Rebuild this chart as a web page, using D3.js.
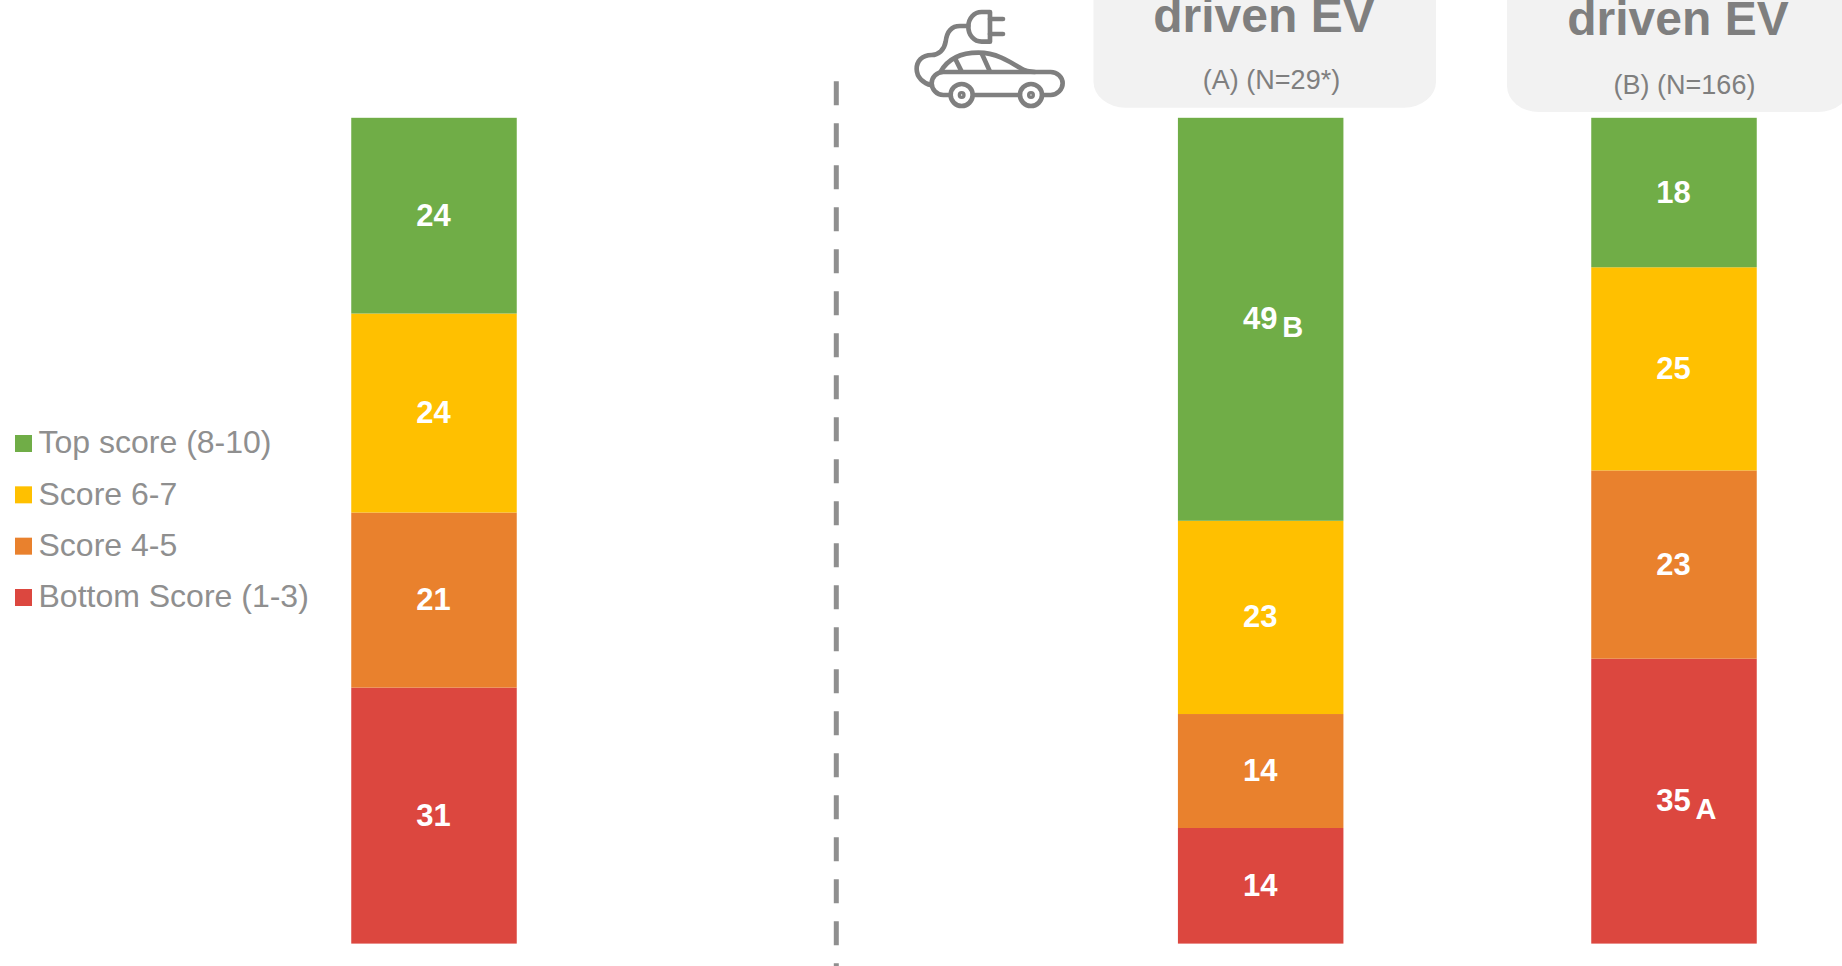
<!DOCTYPE html>
<html>
<head>
<meta charset="utf-8">
<script src="https://cdn.jsdelivr.net/npm/d3@7"></script>
<style>
html,body{margin:0;padding:0;background:#fff;overflow:hidden}
svg{display:block}
text{font-family:"Liberation Sans",Arial,sans-serif}
</style>
</head>
<body>
<svg id="chart" width="1842" height="966"></svg>
<script>
// Categories: the blank slot is the gap that holds the dashed divider
const categories = ["Total", "", "A", "B"];
const barCategories = ["Total", "A", "B"];
const seriesNames = ["Bottom Score (1-3)", "Score 4-5", "Score 6-7", "Top score (8-10)"];
const legendOrder = ["Top score (8-10)", "Score 6-7", "Score 4-5", "Bottom Score (1-3)"];
const bottomScore = [31.0, 14.0, 34.5];
const score45 = [21.2, 13.8, 22.8];
const score67 = [24.1, 23.4, 24.6];
const topScore = [23.7, 48.8, 18.1];
const sigTop = ["", "B", ""];
const sigBottom = ["", "", "A"];
const headers = ["driven EV", "driven EV"];
const subHeaders = ["(A) (N=29*)", "(B) (N=166)"];
const colors = ["#DC473F", "#E9812D", "#FFC000", "#70AD47"];

const svg = d3.select("#chart");
const x = d3.scalePoint().domain(categories).range([434, 1674]);
const y = d3.scaleLinear().domain([0, 100]).range([943.6, 117.8]);
const color = d3.scaleOrdinal().domain(seriesNames).range(colors);
const barW = 165.5;

const rows = barCategories.map((c, i) => ({
  category: c,
  [seriesNames[0]]: bottomScore[i],
  [seriesNames[1]]: score45[i],
  [seriesNames[2]]: score67[i],
  [seriesNames[3]]: topScore[i],
  sigTop: sigTop[i],
  sigBottom: sigBottom[i]
}));
const stacked = d3.stack().keys(seriesNames)(rows);

// Header boxes (run off the top of the frame)
const boxes = [
  {x0: 1093.5, x1: 1436, bottom: 107.7, cx: 1264, base: 31.5, subCx: 1271.5, subBase: 89},
  {x0: 1507, x1: 1850, bottom: 112, cx: 1678, base: 35, subCx: 1684.5, subBase: 93.5}
];
boxes.forEach((b, i) => {
  svg.append("rect").attr("x", b.x0).attr("y", -40).attr("width", b.x1 - b.x0)
    .attr("height", b.bottom + 40).attr("rx", 32).attr("ry", 26).attr("fill", "#F2F2F2");
  svg.append("text").attr("x", b.cx).attr("y", b.base).attr("text-anchor", "middle")
    .attr("font-size", 48).attr("font-weight", "bold").attr("fill", "#7F7F7F").text(headers[i]);
  svg.append("text").attr("x", b.subCx).attr("y", b.subBase).attr("text-anchor", "middle")
    .attr("font-size", 27).attr("fill", "#7F7F7F").text(subHeaders[i]);
});

// Dashed divider
svg.append("line").attr("x1", 836.3).attr("x2", 836.3).attr("y1", 81.3).attr("y2", 966)
  .attr("stroke", "#8F8F8F").attr("stroke-width", 5).attr("stroke-dasharray", "24 18");

// Stacked bars
const layers = svg.selectAll("g.layer").data(stacked).join("g").attr("class", "layer")
  .attr("fill", d => color(d.key));
layers.selectAll("rect").data(d => d).join("rect")
  .attr("x", d => x(d.data.category) - barW / 2)
  .attr("width", barW)
  .attr("y", d => y(d[1]))
  .attr("height", d => y(d[0]) - y(d[1]));

// Value labels
const fmt = d3.format(".0f");
const labels = svg.selectAll("g.labels").data(stacked).join("g").attr("class", "labels");
labels.selectAll("text").data(d => d).join("text")
  .attr("x", d => x(d.data.category) - 0.5)
  .attr("y", d => (y(d[0]) + y(d[1])) / 2 + 10)
  .attr("text-anchor", "middle").attr("font-size", 31).attr("font-weight", "bold")
  .attr("fill", "#fff").text(d => fmt(d[1] - d[0]));

// Significance letters
function sig(layerIdx, field) {
  svg.append("g").selectAll("text").data(stacked[layerIdx].filter(d => d.data[field])).join("text")
    .attr("x", d => x(d.data.category) + 21.5)
    .attr("y", d => (y(d[0]) + y(d[1])) / 2 + 17.5)
    .attr("font-size", 29).attr("font-weight", "bold").attr("fill", "#fff")
    .text(d => d.data[field]);
}
sig(3, "sigTop");
sig(0, "sigBottom");

// Legend
const legendY = d3.scalePoint().domain(legendOrder).range([443.5, 597.5]);
const legend = svg.append("g").selectAll("g").data(legendOrder).join("g");
legend.append("rect").attr("x", 15).attr("width", 17).attr("height", 17)
  .attr("y", d => legendY(d) - 8.5).attr("fill", d => color(d));
legend.append("text").attr("x", 38.5).attr("y", d => legendY(d) + 9.7)
  .attr("font-size", 32).attr("fill", "#8F8F8F").text(d => d);

// Electric car icon (decorative)
const icon = svg.append("g").attr("transform", "translate(900,0) scale(0.3333)")
  .attr("fill", "none").attr("stroke", "#7F7F7F").attr("stroke-width", 14)
  .attr("stroke-linecap", "round").attr("stroke-linejoin", "round");
icon.append("path").attr("d", "M270,36 V125 H245 C222,125 205,105 205,80 C205,55 222,36 245,36 Z");
icon.append("path").attr("d", "M270,57 H309 M270,102 H309");
icon.append("path").attr("d", "M205,78 H180 C150,78 140,100 137,125 C133,150 115,165 95,165 C65,165 50,185 50,207 C50,232 70,250 95,256");
icon.append("path").attr("d", "M122,215 C145,175 185,158 235,158 C290,158 330,185 362,205 C375,213 390,216 405,216");
icon.append("path").attr("d", "M165,175 L185,215 M245,160 L270,215");
icon.append("path").attr("d", "M150,285 H130 C110,285 95,268 95,250 C95,232 110,216 130,216 H452 C472,216 488,232 488,250 C488,268 472,285 452,285 H430 M225,285 H355");
[185, 393].forEach(cx => {
  icon.append("circle").attr("cx", cx).attr("cy", 285).attr("r", 33);
  icon.append("circle").attr("cx", cx).attr("cy", 285).attr("r", 5);
});
</script>
</body>
</html>
